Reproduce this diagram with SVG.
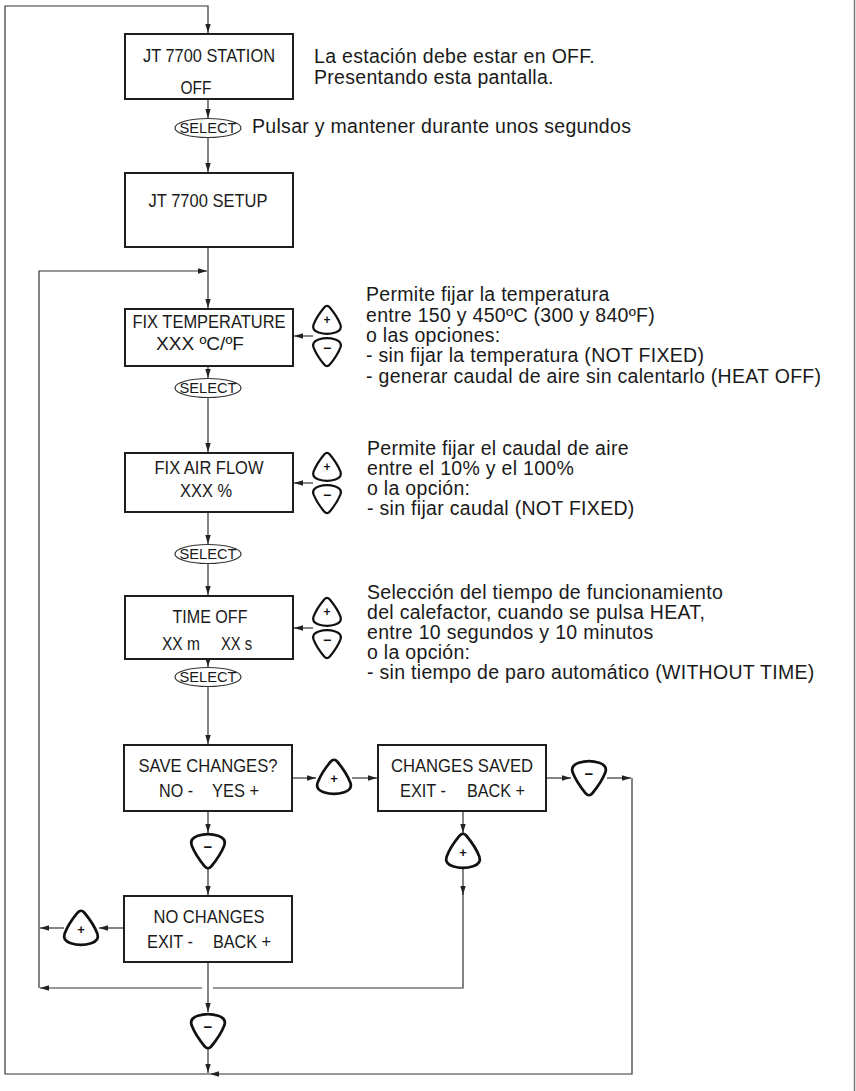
<svg xmlns="http://www.w3.org/2000/svg" xmlns:xlink="http://www.w3.org/1999/xlink" width="856" height="1091" viewBox="0 0 856 1091">
  <style>
    .box { fill: #fff; stroke: #1e1e1e; stroke-width: 2; }
    .ln { fill: none; stroke: #333; stroke-width: 1.2; }
    .sel { fill: #fff; stroke: #333; stroke-width: 1.2; }
    .btn { fill: #fff; stroke: #111; stroke-width: 2.4; stroke-linejoin: round; }
    .bt { font-family: "Liberation Sans", Arial, sans-serif; font-size: 17.5px; fill: #1a1a1a; }
    .c { text-anchor: middle; }
    .pt { font-family: "Liberation Sans", Arial, sans-serif; font-size: 19.5px; letter-spacing: 0.3px; fill: #1a1a1a; }
    .st { font-family: "Liberation Sans", Arial, sans-serif; font-size: 14px; fill: #1a1a1a; text-anchor: middle; }
    .sym { font-family: "Liberation Sans", Arial, sans-serif; font-weight: bold; fill: #111; text-anchor: middle; }
  </style>
  <defs>
    <marker id="ah" viewBox="0 0 10 6" refX="10" refY="3" markerWidth="9" markerHeight="5.4" markerUnits="userSpaceOnUse" orient="auto">
      <path d="M0,0 L10,3 L0,6 Z" fill="#222"/>
    </marker>
    <!-- rounded "pick" shaped key, apex up (plus key) -->
    <path id="keyUp" d="M -3,-13.5 Q 0,-17 3,-13.5 Q 11,-4 14.5,5 Q 16.5,11 9,13.5 Q 0,16.5 -9,13.5 Q -16.5,11 -14.5,5 Q -11,-4 -3,-13.5 Z"/>
    <!-- same key, apex down (minus key) -->
    <path id="keyDown" d="M -3,13.5 Q 0,17 3,13.5 Q 11,4 14.5,-5 Q 16.5,-11 9,-13.5 Q 0,-16.5 -9,-13.5 Q -16.5,-11 -14.5,-5 Q -11,4 -3,13.5 Z"/>
  </defs>

  <rect width="856" height="1091" fill="#fff"/>
  <!-- page edge -->
  <line x1="854.5" y1="0" x2="854.5" y2="1091" stroke="#777" stroke-width="1.5"/>

  <g id="connectors" class="ln">
    <path d="M632,778 V1074 H210" marker-end="url(#ah)"/>
    <path d="M210,1074 H5 V6 H208 V33" marker-end="url(#ah)"/>
    <path d="M208,99 V118" marker-end="url(#ah)"/>
    <path d="M208,138 V172" marker-end="url(#ah)"/>
    <path d="M208,247 V308" marker-end="url(#ah)"/>
    <path d="M39,988 V271 H207" marker-end="url(#ah)"/>
    <path d="M208,366 V378" marker-end="url(#ah)"/>
    <path d="M208,398 V452" marker-end="url(#ah)"/>
    <path d="M208,512 V544" marker-end="url(#ah)"/>
    <path d="M208,564 V595" marker-end="url(#ah)"/>
    <path d="M208,659 V667" marker-end="url(#ah)"/>
    <path d="M208,687 V744" marker-end="url(#ah)"/>
    <path d="M313,336 H294" marker-end="url(#ah)"/>
    <path d="M313,483 H294" marker-end="url(#ah)"/>
    <path d="M313,628 H294" marker-end="url(#ah)"/>
    <path d="M293,778 H316" marker-end="url(#ah)"/>
    <path d="M352,778 H377" marker-end="url(#ah)"/>
    <path d="M547,778 H571" marker-end="url(#ah)"/>
    <path d="M607,778 H631" marker-end="url(#ah)"/>
    <path d="M208,811 V833" marker-end="url(#ah)"/>
    <path d="M208,869 V895" marker-end="url(#ah)"/>
    <path d="M463,811 V833" marker-end="url(#ah)"/>
    <path d="M463,868 V895" marker-end="url(#ah)"/>
    <path d="M463,893 V988 H213"/>
    <path d="M202,988 H40" marker-end="url(#ah)"/>
    <path d="M124,928 H99" marker-end="url(#ah)"/>
    <path d="M64,928 H40" marker-end="url(#ah)"/>
    <path d="M208,962 V1012" marker-end="url(#ah)"/>
    <path d="M208,1048 V1073" marker-end="url(#ah)"/>
  </g>

  <g id="n-station">
    <rect class="box" x="125" y="34" width="168" height="65"/>
    <text class="bt c" x="209" y="62" textLength="132" lengthAdjust="spacingAndGlyphs">JT 7700 STATION</text>
    <text class="bt c" x="196" y="94" textLength="31" lengthAdjust="spacingAndGlyphs">OFF</text>
  </g>
  <g id="t-station">
    <text class="pt" x="314" y="63">La estación debe estar en OFF.</text>
    <text class="pt" x="314" y="84">Presentando esta pantalla.</text>
  </g>

  <g id="s-select1">
    <ellipse class="sel" cx="208" cy="128" rx="33" ry="9.5"/>
    <text class="st" x="208" y="133" textLength="57" lengthAdjust="spacingAndGlyphs">SELECT</text>
    <text class="pt" x="252" y="133">Pulsar y mantener durante unos segundos</text>
  </g>

  <g id="n-setup">
    <rect class="box" x="125" y="173" width="168" height="74"/>
    <text class="bt c" x="208" y="207" textLength="119" lengthAdjust="spacingAndGlyphs">JT 7700 SETUP</text>
  </g>

  <g id="n-temp">
    <rect class="box" x="125" y="309" width="168" height="57"/>
    <text class="bt c" x="209" y="328" textLength="153" lengthAdjust="spacingAndGlyphs">FIX TEMPERATURE</text>
    <text class="bt c" x="200" y="350" textLength="88" lengthAdjust="spacingAndGlyphs">XXX ºC/ºF</text>
  </g>
  <g id="k-temp">
    <use xlink:href="#keyUp" class="btn" transform="translate(327,320) scale(0.93)"/>
    <text class="sym" x="327" y="324" font-size="12">+</text>
    <use xlink:href="#keyDown" class="btn" transform="translate(327,352) scale(0.93)"/>
    <text class="sym" x="327" y="353" font-size="14">−</text>
  </g>
  <g id="t-temp">
    <text class="pt" x="366" y="301">Permite fijar la temperatura</text>
    <text class="pt" x="366" y="322">entre 150 y 450ºC (300 y 840ºF)</text>
    <text class="pt" x="366" y="342">o las opciones:</text>
    <text class="pt" x="366" y="362">- sin fijar la temperatura (NOT FIXED)</text>
    <text class="pt" x="366" y="383">- generar caudal de aire sin calentarlo (HEAT OFF)</text>
  </g>

  <g id="s-select2">
    <ellipse class="sel" cx="208" cy="388" rx="33" ry="9.5"/>
    <text class="st" x="208" y="393" textLength="57" lengthAdjust="spacingAndGlyphs">SELECT</text>
  </g>

  <g id="n-air">
    <rect class="box" x="125" y="453" width="168" height="59"/>
    <text class="bt c" x="209" y="474" textLength="109" lengthAdjust="spacingAndGlyphs">FIX AIR FLOW</text>
    <text class="bt c" x="206" y="497" textLength="52" lengthAdjust="spacingAndGlyphs">XXX %</text>
  </g>
  <g id="k-air">
    <use xlink:href="#keyUp" class="btn" transform="translate(327,467) scale(0.93)"/>
    <text class="sym" x="327" y="471" font-size="12">+</text>
    <use xlink:href="#keyDown" class="btn" transform="translate(327,499) scale(0.93)"/>
    <text class="sym" x="327" y="500" font-size="14">−</text>
  </g>
  <g id="t-air">
    <text class="pt" x="367" y="455">Permite fijar el caudal de aire</text>
    <text class="pt" x="367" y="475">entre el 10% y el 100%</text>
    <text class="pt" x="367" y="495">o la opción:</text>
    <text class="pt" x="367" y="515">- sin fijar caudal (NOT FIXED)</text>
  </g>

  <g id="s-select3">
    <ellipse class="sel" cx="208" cy="554" rx="33" ry="9.5"/>
    <text class="st" x="208" y="559" textLength="57" lengthAdjust="spacingAndGlyphs">SELECT</text>
  </g>

  <g id="n-time">
    <rect class="box" x="125" y="596" width="168" height="63"/>
    <text class="bt c" x="210" y="623" textLength="75" lengthAdjust="spacingAndGlyphs">TIME OFF</text>
    <text class="bt" x="162" y="650" textLength="38" lengthAdjust="spacingAndGlyphs">XX m</text>
    <text class="bt" x="221" y="650" textLength="31" lengthAdjust="spacingAndGlyphs">XX s</text>
  </g>
  <g id="k-time">
    <use xlink:href="#keyUp" class="btn" transform="translate(327,612) scale(0.93)"/>
    <text class="sym" x="327" y="616" font-size="12">+</text>
    <use xlink:href="#keyDown" class="btn" transform="translate(327,644) scale(0.93)"/>
    <text class="sym" x="327" y="645" font-size="14">−</text>
  </g>
  <g id="t-time">
    <text class="pt" x="367" y="599">Selección del tiempo de funcionamiento</text>
    <text class="pt" x="367" y="619">del calefactor, cuando se pulsa HEAT,</text>
    <text class="pt" x="367" y="639">entre 10 segundos y 10 minutos</text>
    <text class="pt" x="367" y="659">o la opción:</text>
    <text class="pt" x="367" y="679">- sin tiempo de paro automático (WITHOUT TIME)</text>
  </g>

  <g id="s-select4">
    <ellipse class="sel" cx="208" cy="677" rx="33" ry="9.5"/>
    <text class="st" x="208" y="682" textLength="57" lengthAdjust="spacingAndGlyphs">SELECT</text>
  </g>

  <g id="n-save">
    <rect class="box" x="124" y="745" width="168" height="66"/>
    <text class="bt c" x="208" y="772" textLength="139" lengthAdjust="spacingAndGlyphs">SAVE CHANGES?</text>
    <text class="bt" x="159" y="797" textLength="34" lengthAdjust="spacingAndGlyphs">NO -</text>
    <text class="bt" x="212" y="797" textLength="47" lengthAdjust="spacingAndGlyphs">YES +</text>
  </g>
  <g id="k-save-yes">
    <use xlink:href="#keyUp" class="btn" transform="translate(334,777) scale(1.13)"/>
    <text class="sym" x="334" y="783" font-size="13">+</text>
  </g>
  <g id="n-saved">
    <rect class="box" x="378" y="745" width="168" height="66"/>
    <text class="bt c" x="462" y="772" textLength="142" lengthAdjust="spacingAndGlyphs">CHANGES SAVED</text>
    <text class="bt" x="400" y="797" textLength="46" lengthAdjust="spacingAndGlyphs">EXIT -</text>
    <text class="bt" x="467" y="797" textLength="58" lengthAdjust="spacingAndGlyphs">BACK +</text>
  </g>
  <g id="k-saved-exit">
    <use xlink:href="#keyDown" class="btn" transform="translate(589,778) scale(1.13)"/>
    <text class="sym" x="589" y="779" font-size="15">−</text>
  </g>
  <g id="k-saved-back">
    <use xlink:href="#keyUp" class="btn" transform="translate(463,851) scale(1.13)"/>
    <text class="sym" x="463" y="857" font-size="13">+</text>
  </g>
  <g id="k-save-no">
    <use xlink:href="#keyDown" class="btn" transform="translate(208,851) scale(1.13)"/>
    <text class="sym" x="208" y="852" font-size="15">−</text>
  </g>

  <g id="n-nochanges">
    <rect class="box" x="124" y="896" width="168" height="66"/>
    <text class="bt c" x="209" y="923" textLength="111" lengthAdjust="spacingAndGlyphs">NO CHANGES</text>
    <text class="bt" x="147" y="948" textLength="46" lengthAdjust="spacingAndGlyphs">EXIT -</text>
    <text class="bt" x="213" y="948" textLength="58" lengthAdjust="spacingAndGlyphs">BACK +</text>
  </g>
  <g id="k-nochanges-back">
    <use xlink:href="#keyUp" class="btn" transform="translate(81,928) scale(1.13)"/>
    <text class="sym" x="81" y="934" font-size="13">+</text>
  </g>
  <g id="k-nochanges-exit">
    <use xlink:href="#keyDown" class="btn" transform="translate(208,1031) scale(1.13)"/>
    <text class="sym" x="208" y="1032" font-size="15">−</text>
  </g>
</svg>
